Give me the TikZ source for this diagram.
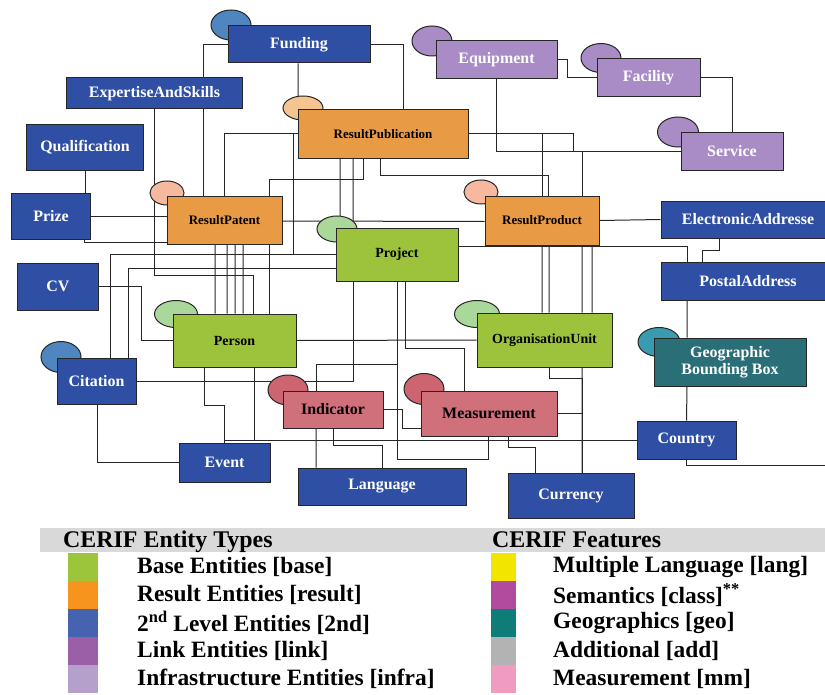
\documentclass[tikz,border=0pt]{standalone}
\usepackage{fontspec}
\setmainfont{Liberation Serif}
\usetikzlibrary{shapes.geometric,calc}
\pgfdeclarelayer{bg}
\pgfsetlayers{bg,main}
\definecolor{cblue}{HTML}{2E4FA3}
\definecolor{corange}{HTML}{E99A45}
\definecolor{cgreen}{HTML}{9DC23B}
\definecolor{cpurple}{HTML}{A98CC5}
\definecolor{cpink}{HTML}{CF707A}
\definecolor{cteal}{HTML}{2A6E78}
\definecolor{eblue}{HTML}{4F86C0}
\definecolor{esalmon}{HTML}{F6B99F}
\definecolor{elorange}{HTML}{F6C491}
\definecolor{egreen}{HTML}{AAD89B}
\definecolor{ered}{HTML}{CD6570}
\definecolor{eteal}{HTML}{3A9BB0}
\definecolor{lgreen}{HTML}{9DC53B}
\definecolor{lorange}{HTML}{F7941D}
\definecolor{lblue}{HTML}{4563AE}
\definecolor{lpurple}{HTML}{9B5FA8}
\definecolor{llpurple}{HTML}{B59FCB}
\definecolor{fyellow}{HTML}{F2E500}
\definecolor{fmagenta}{HTML}{B24B9E}
\definecolor{fteal}{HTML}{0E7D78}
\definecolor{fgray}{HTML}{B3B3B3}
\definecolor{fpink}{HTML}{F09BC0}
\definecolor{bandgray}{HTML}{D9D9D9}
\tikzset{
  ent/.style={draw=black!85, line width=1bp, inner sep=0pt, align=center, font=\bfseries},
  blu/.style={ent, fill=cblue, text=white, font=\bfseries\fontsize{16}{19}\selectfont},
  org/.style={ent, fill=corange, text=black, font=\bfseries\fontsize{13}{15}\selectfont},
  grn/.style={ent, fill=cgreen, text=black, font=\bfseries\fontsize{14}{16}\selectfont},
  pur/.style={ent, fill=cpurple, text=white, font=\bfseries\fontsize{16}{19}\selectfont},
  pnk/.style={ent, fill=cpink, text=black, font=\bfseries\fontsize{16}{19}\selectfont},
  tea/.style={ent, fill=cteal, text=white, font=\bfseries\fontsize{16}{19}\selectfont},
  ell/.style={ellipse, draw=black!85, line width=1bp, inner sep=0pt},
  conn/.style={draw=black!85, line width=1bp},
  lsq/.style={minimum width=30bp, minimum height=28bp, inner sep=0pt},
  ltxt/.style={anchor=west, font=\bfseries\fontsize{23.5}{25}\selectfont, inner sep=0pt},
  ltitle/.style={anchor=base west, font=\bfseries\fontsize{24}{26}\selectfont, inner sep=0pt}
}
\begin{document}
\begin{tikzpicture}[x=1bp,y=-1bp]
\useasboundingbox (0,0) rectangle (825,695);
% ellipses
\node[ell, fill=eblue, minimum width=40bp, minimum height=30bp] (fundingE) at (231,25) {};
\node[ell, fill=esalmon, minimum width=34bp, minimum height=24bp] (patentE) at (167,193) {};
\node[ell, fill=elorange, minimum width=40bp, minimum height=24bp] (pubE) at (303,108) {};
\node[ell, fill=egreen, minimum width=40bp, minimum height=26bp] (projectE) at (337,229) {};
\node[ell, fill=cpurple, minimum width=40bp, minimum height=30bp] (equipE) at (432,41) {};
\node[ell, fill=cpurple, minimum width=40bp, minimum height=29bp] (facE) at (601,58) {};
\node[ell, fill=cpurple, minimum width=41bp, minimum height=30bp] (servE) at (678,132) {};
\node[ell, fill=esalmon, minimum width=34bp, minimum height=24bp] (productE) at (481,192) {};
\node[ell, fill=egreen, minimum width=45bp, minimum height=27bp] (orgE) at (477,314) {};
\node[ell, fill=eteal, minimum width=42bp, minimum height=29bp] (gbbE) at (659,342) {};
\node[ell, fill=ered, minimum width=40bp, minimum height=31bp] (measE) at (424,389) {};
\node[ell, fill=egreen, minimum width=43bp, minimum height=27bp] (personE) at (176,314) {};
\node[ell, fill=eblue, minimum width=40bp, minimum height=31bp] (citationE) at (61,357) {};
\node[ell, fill=ered, minimum width=40bp, minimum height=30bp] (indicatorE) at (288,390) {};
% boxes
\node[blu, minimum width=142bp, minimum height=37bp] (funding) at (299,44.5) {Funding};
\node[blu, minimum width=175bp, minimum height=31bp] (expert) at (154.5,93.5) {ExpertiseAndSkills};
\node[blu, minimum width=116bp, minimum height=45bp] (qual) at (85,147.5) {Qualification};
\node[blu, minimum width=78bp, minimum height=46bp] (prize) at (51,216) {Prize};
\node[org, minimum width=115bp, minimum height=48bp] (patent) at (224.5,220) {ResultPatent};
\node[org, minimum width=170bp, minimum height=48bp] (pub) at (383,134) {ResultPublication};
\node[grn, minimum width=122bp, minimum height=53bp] (project) at (397,254.5) {Project};
\node[pur, minimum width=121bp, minimum height=38bp] (equip) at (496.5,60) {Equipment};
\node[pur, minimum width=103bp, minimum height=38bp] (facility) at (648.5,78) {Facility};
\node[pur, minimum width=102bp, minimum height=37bp] (service) at (732,151.5) {Service};
\node[org, minimum width=114bp, minimum height=49bp] (product) at (542,220.5) {ResultProduct};
\node[blu, minimum width=174bp, minimum height=37bp] (eaddr) at (748,219.5) {ElectronicAddresse};
\node[blu, minimum width=174bp, minimum height=38bp] (postal) at (748,281) {PostalAddress};
\node[grn, minimum width=135bp, minimum height=54bp] (orgunit) at (544.5,340) {OrganisationUnit};
\node[tea, minimum width=152bp, minimum height=48bp] (gbb) at (730,362) {Geographic\\[-2bp]Bounding Box};
\node[pnk, minimum width=136bp, minimum height=45bp] (meas) at (489,413.5) {Measurement};
\node[blu, minimum width=99bp, minimum height=38bp] (country) at (686.5,440) {Country};
\node[blu, minimum width=126bp, minimum height=45bp] (currency) at (571,495.5) {Currency};
\node[blu, minimum width=80bp, minimum height=47bp] (cv) at (58,286.5) {CV};
\node[grn, minimum width=123bp, minimum height=53bp] (person) at (234.5,340.5) {Person};
\node[blu, minimum width=79bp, minimum height=46bp] (citation) at (96.5,381) {Citation};
\node[pnk, minimum width=100bp, minimum height=37bp] (indicator) at (333,409.5) {Indicator};
\node[blu, minimum width=91bp, minimum height=39bp] (event) at (224.5,462.5) {Event};
\node[blu, minimum width=168bp, minimum height=37bp] (language) at (382,486.5) {Language};
\coordinate (edgeR) at (826,465);
% connectors
\begin{pgfonlayer}{bg}
\draw[conn] (funding.west) -| ([xshift=-21.5bp]patent.north);
\draw[conn] ([xshift=-1bp]funding.south) -- ([xshift=-5bp]pubE.center);
\draw[conn] (funding.east) -| ([xshift=20bp]pub.north);
\draw[conn] (expert.south) -- ++(0,166) -| ([xshift=18.5bp]person.north);
\draw[conn] (qual.south) -- (qual.south |- prize.north);
\draw[conn] (prize.east) -- (prize.east -| patent.west);
\draw[conn] ([xshift=33bp]prize.south) |- ([yshift=-22bp]patent.west);
\draw[conn] (pub.west) -| (patent.north);
\draw[conn] ([xshift=-4bp]pub.west) |- (project.west);
\draw[conn] ([xshift=-20bp]pub.south) -- ++(0,21) -| ([xshift=34.5bp]person.north);
\draw[conn] ([xshift=-43bp]pub.south) -- ([xshift=-57bp]project.north);
\draw[conn] ([xshift=-30bp]pub.south) -- ([xshift=-44bp]project.north);
\draw[conn] ([xshift=-3bp]pub.south) -- ++(0,17) -| ([xshift=6bp]product.north);
\draw[conn] (pub.east) -| (product.north);
\draw[conn] (pub.east) -- ++(105,0) |- (service.west);
\draw[conn] (equip.south) |- (service.west);
\draw[conn] ([xshift=40bp]product.north) |- (service.west);
\draw[conn] (equip.east) -- ++(10,0) |- (facility.west);
\draw[conn] (facility.east) -| (service.north);
\draw[conn] ([yshift=-1bp]patent.east) -- ([yshift=-1bp]product.west);
\draw[conn] (product.east) -- (eaddr.west);
\draw[conn] ([yshift=8bp]project.east) -| ([xshift=-61bp]postal.north);
\draw[conn] ([xshift=-29bp]eaddr.south) -- ++(0,12) -| ([xshift=-46bp]postal.north);
\draw[conn] ([xshift=-61bp]postal.south) -- ([xshift=-43bp]gbb.north);
\draw[conn] ([xshift=-43bp]gbb.south) -- (country.north);
\draw[conn] (country.south) |- (edgeR);
\draw[conn] (product.south) -- ([xshift=-2.5bp]orgunit.north);
\draw[conn] ([xshift=7bp]product.south) -- ([xshift=4.5bp]orgunit.north);
\draw[conn] ([xshift=40bp]product.south) -- ([xshift=37.5bp]orgunit.north);
\draw[conn] ([xshift=50bp]product.south) -- ([xshift=47.5bp]orgunit.north);
\draw[conn] (project.west) -| ([xshift=13.5bp]citation.north);
\draw[conn] ([yshift=-14bp]project.west) -| ([xshift=31.5bp]citation.north);
\draw[conn] (cv.east) -- ++(43,0) |- (person.west);
\draw[conn] ([xshift=-9.5bp]patent.south) -- ([xshift=-19.5bp]person.north);
\draw[conn] ([xshift=2.5bp]patent.south) -- ([xshift=-7.5bp]person.north);
\draw[conn] ([xshift=10.5bp]patent.south) -- ([xshift=0.5bp]person.north);
\draw[conn] ([xshift=18.5bp]patent.south) -- ([xshift=8.5bp]person.north);
\draw[conn] (citation.east) -| ([xshift=-44bp]project.south);
\draw[conn] ([xshift=0.5bp]citation.south) |- (event.west);
\draw[conn] ([xshift=-30.5bp]person.south) -- ++(0,38) -| (event.north);
\draw[conn] (country.west) -| (event.north);
\draw[conn] ([xshift=19.5bp]person.south) |- (country.west);
\draw[conn] (person.east) -- (orgunit.west);
\draw[conn] (project.south) -- ++(0,83) -| ([xshift=-17bp]indicator.north);
\draw[conn] (project.south) -- ++(0,178) -| ([xshift=-1bp]meas.south);
\draw[conn] ([xshift=-17bp]indicator.south) -- ([xshift=-66bp]language.north);
\draw[conn] (indicator.south) -- ++(0,17) -| (language.north);
\draw[conn] (indicator.east) -- ++(19,0) |- ([yshift=-14.5bp]meas.west);
\draw[conn] ([xshift=8bp]project.south) -- ++(0,67) -| ([xshift=-25bp]meas.north);
\draw[conn] ([xshift=19bp]meas.south) -- ++(0,11) -| ([xshift=-36bp]currency.north);
\draw[conn] ([xshift=37.5bp]orgunit.south) -- ([xshift=11bp]currency.north);
\draw[conn] ([xshift=4.5bp]orgunit.south) -- ++(0,11) -| ([xshift=11bp]currency.north);
\draw[conn] (meas.east) -| ([xshift=11bp]currency.north);
\end{pgfonlayer}
% legend
\fill[bandgray] (40,528) rectangle (825,552);
\node[ltitle] (t1) at (63,547) {CERIF Entity Types};
\node[ltitle] (t2) at (492,547) {CERIF Features};
\node[lsq, fill=lgreen] (s1) at (83,567) {};
\node[lsq, fill=lorange] (s2) at (83,595) {};
\node[lsq, fill=lblue] (s3) at (83,623) {};
\node[lsq, fill=lpurple] (s4) at (83,651) {};
\node[lsq, fill=llpurple] (s5) at (83,679) {};
\node[ltxt] (l1) at (137,567) {Base Entities [base]};
\node[ltxt] (l2) at (137,595) {Result Entities [result]};
\node[ltxt] (l3) at (137,623) {2\textsuperscript{nd} Level Entities [2nd]};
\node[ltxt] (l4) at (137,651) {Link Entities [link]};
\node[ltxt] (l5) at (137,679) {Infrastructure Entities [infra]};
\node[lsq, minimum width=25bp, fill=fyellow] (f1) at (503.5,567) {};
\node[lsq, minimum width=25bp, fill=fmagenta] (f2) at (503.5,595) {};
\node[lsq, minimum width=25bp, fill=fteal] (f3) at (503.5,623) {};
\node[lsq, minimum width=25bp, fill=fgray] (f4) at (503.5,651) {};
\node[lsq, minimum width=25bp, fill=fpink] (f5) at (503.5,679) {};
\node[ltxt] (m1) at (553,567) {Multiple Language [lang]};
\node[ltxt] (m2) at (553,595) {Semantics [class]\textsuperscript{**}};
\node[ltxt] (m3) at (553,623) {Geographics [geo]};
\node[ltxt] (m4) at (553,651) {Additional [add]};
\node[ltxt] (m5) at (553,679) {Measurement [mm]};
\end{tikzpicture}
\end{document}
